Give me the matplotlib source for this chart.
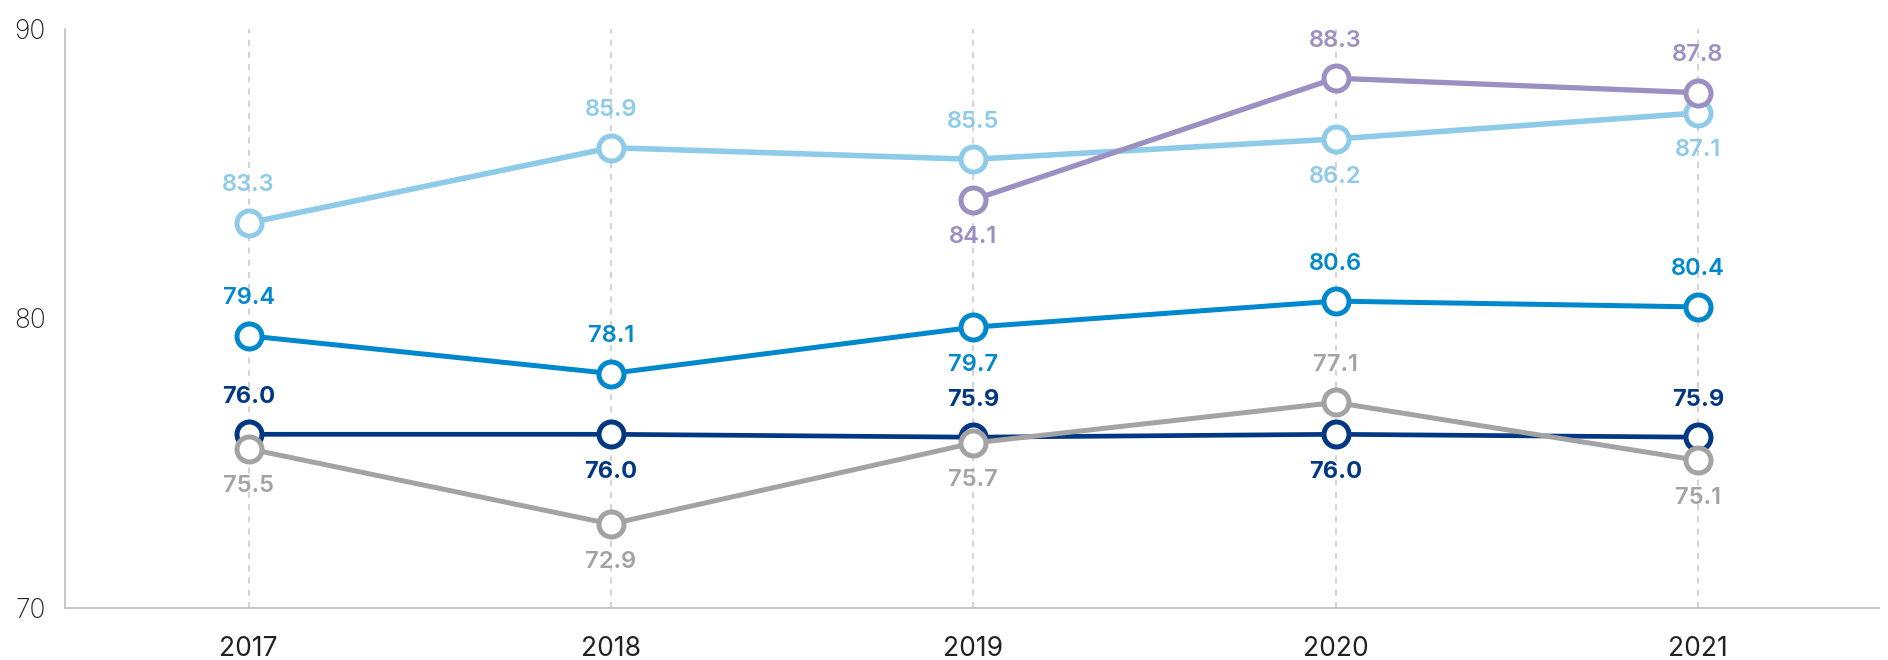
import numpy as np
import matplotlib
matplotlib.use("Agg")
from matplotlib import pyplot as plt

years = ['2017', '2018', '2019', '2020', '2021']
light_blue = [83.3, 85.9, 85.5, 86.2, 87.1]
purple = [np.nan, np.nan, 84.1, 88.3, 87.8]
blue = [79.4, 78.1, 79.7, 80.6, 80.4]
navy = [76.0, 76.0, 75.9, 76.0, 75.9]
gray = [75.5, 72.9, 75.7, 77.1, 75.1]

# label position per point: 1 above, -1 below
light_blue_pos = [1, 1, 1, -1, -1]
purple_pos = [0, 0, -1, 1, 1]
blue_pos = [1, 1, -1, 1, 1]
navy_pos = [1, -1, 1, -1, 1]
gray_pos = [-1, -1, -1, 1, -1]

plt.rcParams['font.family'] = ['Inter', 'DejaVu Sans']

fig = plt.figure(figsize=(18.88, 6.6), dpi=100)
ax = fig.add_axes([65 / 1888, 52 / 660, (1879 - 65) / 1888, (608 - 29) / 660])

x = np.arange(len(years))
series = [
    (navy, navy_pos, '#023882', 3.4, 'bold', 3),
    (gray, gray_pos, '#a3a3a3', 3.6, 'semibold', 4),
    (blue, blue_pos, '#0088cc', 3.6, 'semibold', 5),
    (light_blue, light_blue_pos, '#8ecbe9', 4.0, 'semibold', 6),
    (purple, purple_pos, '#9c8fc2', 3.8, 'semibold', 7),
]

for vals, pos, col, lw, wt, z in series:
    ax.plot(x, vals, color=col, lw=lw, marker='o', markersize=18,
            markerfacecolor='white', markeredgecolor=col, markeredgewidth=3.6,
            zorder=z, clip_on=False)
    for xi, v, p in zip(x, vals, pos):
        if np.isnan(v) or p == 0:
            continue
        ax.annotate(f'{v:.1f}', (xi, v), xytext=(0, 27 * p), textcoords='offset points',
                    ha='center', va='center', fontsize=17, color=col,
                    fontweight=wt, zorder=z + 10)

for xi in x:
    ax.axvline(xi, color='#c8c8c8', lw=1.1, ls=(0, (4, 4)), zorder=0)

ax.set_xlim(-0.507, 4.5)
ax.set_ylim(70, 90)
ax.set_yticks([70, 80, 90])
ax.set_xticks(x)
ax.set_xticklabels(years)
ax.tick_params(axis='both', length=0, labelsize=19, colors='#222222')
ax.tick_params(axis='x', pad=20)
ax.tick_params(axis='y', pad=14)
for lab in ax.get_yticklabels():
    lab.set_fontweight('light')

for s in ['top', 'right']:
    ax.spines[s].set_visible(False)
ax.spines['left'].set_color('#bdbdbd')
ax.spines['bottom'].set_color('#bdbdbd')
ax.spines['left'].set_linewidth(1.2)
ax.spines['bottom'].set_linewidth(1.2)

fig.savefig('out.png', dpi=100)
